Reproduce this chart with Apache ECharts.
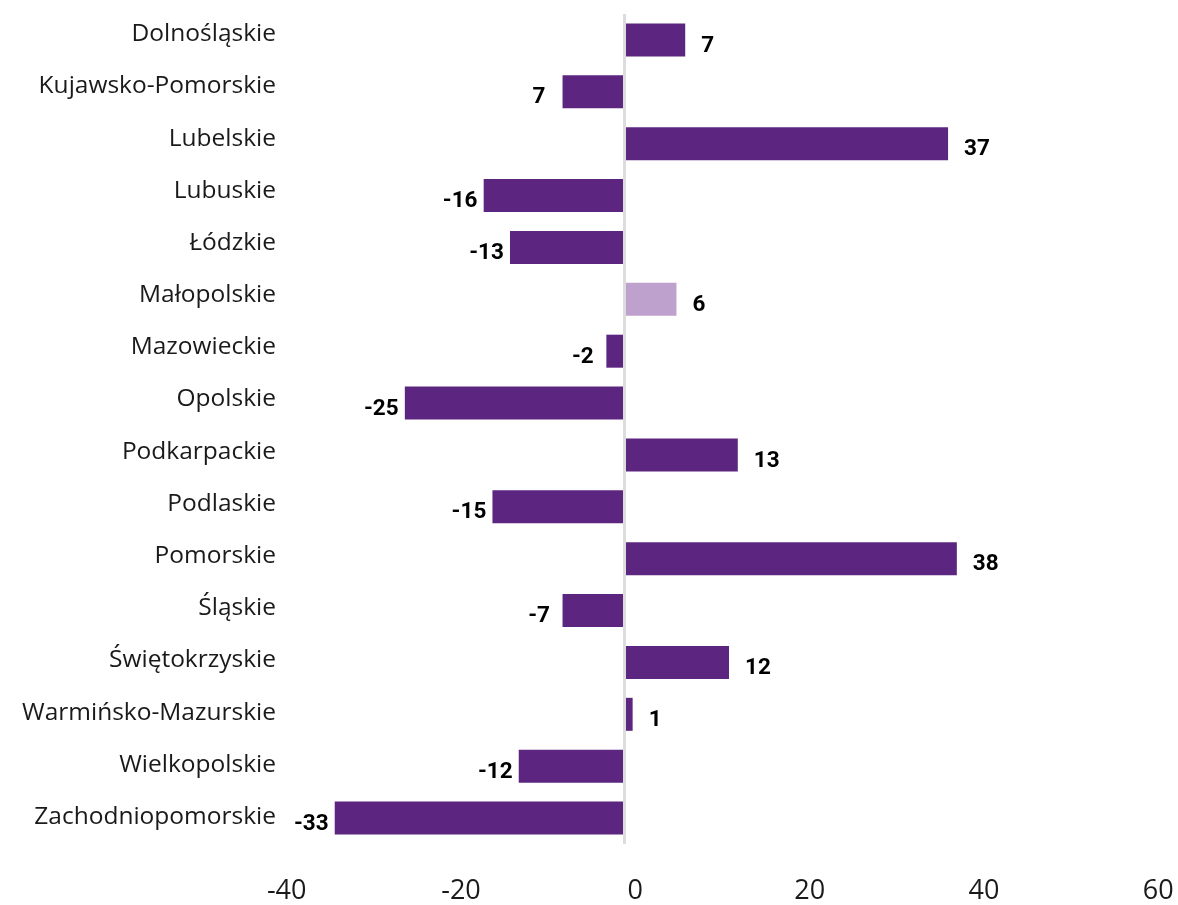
<!DOCTYPE html>
<html>
<head>
<meta charset="utf-8">
<script src="https://cdn.jsdelivr.net/npm/echarts@6/dist/echarts.min.js"></script>
<style>
  html, body { margin: 0; padding: 0; background: #ffffff; }
  #chart { width: 1178px; height: 905px; }
</style>
</head>
<body>
<div id="chart"></div>
<script>
// Regions (voivodeships), top to bottom
const categories = [
  'Dolnośląskie', 'Kujawsko-Pomorskie', 'Lubelskie', 'Lubuskie', 'Łódzkie',
  'Małopolskie', 'Mazowieckie', 'Opolskie', 'Podkarpackie', 'Podlaskie',
  'Pomorskie', 'Śląskie', 'Świętokrzyskie', 'Warmińsko-Mazurskie',
  'Wielkopolskie', 'Zachodniopomorskie'
];
// Bar values
const values = [7, -7, 37, -16, -13, 6, -2, -25, 13, -15, 38, -7, 12, 1, -12, -33];
// Value labels as printed next to each bar
const valueLabels = ['7', '7', '37', '-16', '-13', '6', '-2', '-25', '13', '-15', '38', '-7', '12', '1', '-12', '-33'];
// Highlighted region
const highlighted = 'Małopolskie';
// Value axis range and tick step
const axisMin = -40;
const axisMax = 60;
const axisStep = 20;

const DARK = '#5c2680';
const LIGHT = '#bfa1cd';
const TEXT = '#1a1a1a';

const chart = echarts.init(document.getElementById('chart'), null, { renderer: 'canvas' });

const barData = values.map((v, i) => ({
  value: v,
  itemStyle: { color: categories[i] === highlighted ? LIGHT : DARK },
  label: v < 0
    ? { position: 'left', align: 'center', distance: 23.5 }
    : { position: 'right', align: 'left', distance: 16 }
}));

chart.setOption({
  animation: false,
  backgroundColor: '#ffffff',
  grid: [
    // plotting area for the bars
    { left: 273.4, right: 28.4, top: 14, bottom: 61 },
    // axis labels (category names and value ticks)
    { left: 286.7, right: 19.7, top: 8.1, bottom: 58 }
  ],
  xAxis: [
    { gridIndex: 0, type: 'value', min: axisMin, max: axisMax, interval: axisStep, show: false },
    {
      gridIndex: 1, type: 'value', min: axisMin, max: axisMax, interval: axisStep,
      axisLine: { show: false }, axisTick: { show: false }, splitLine: { show: false },
      axisLabel: {
        color: TEXT, fontSize: 27, margin: 35,
        fontFamily: "'Open Sans', 'Noto Sans', sans-serif"
      }
    }
  ],
  yAxis: [
    { gridIndex: 0, type: 'category', inverse: true, data: categories, show: false },
    {
      gridIndex: 1, type: 'category', inverse: true, data: categories,
      axisLine: { show: false }, axisTick: { show: false }, splitLine: { show: false },
      axisLabel: {
        color: TEXT, fontSize: 24.5, margin: 10.7,
        fontFamily: "'Open Sans', 'Noto Sans', sans-serif"
      }
    }
  ],
  series: [{
    type: 'bar',
    xAxisIndex: 0,
    yAxisIndex: 0,
    barWidth: 33,
    data: barData,
    label: {
      show: true,
      color: '#000000',
      fontSize: 22.5,
      fontWeight: 'bold',
      fontFamily: "'Roboto', sans-serif",
      offset: [0, 6],
      formatter: p => valueLabels[p.dataIndex]
    },
    markLine: {
      silent: true,
      symbol: 'none',
      label: { show: false },
      lineStyle: { color: '#dcdcdc', width: 3, type: 'solid' },
      data: [{ xAxis: 0 }],
      z: 5
    }
  }]
});
</script>
</body>
</html>
